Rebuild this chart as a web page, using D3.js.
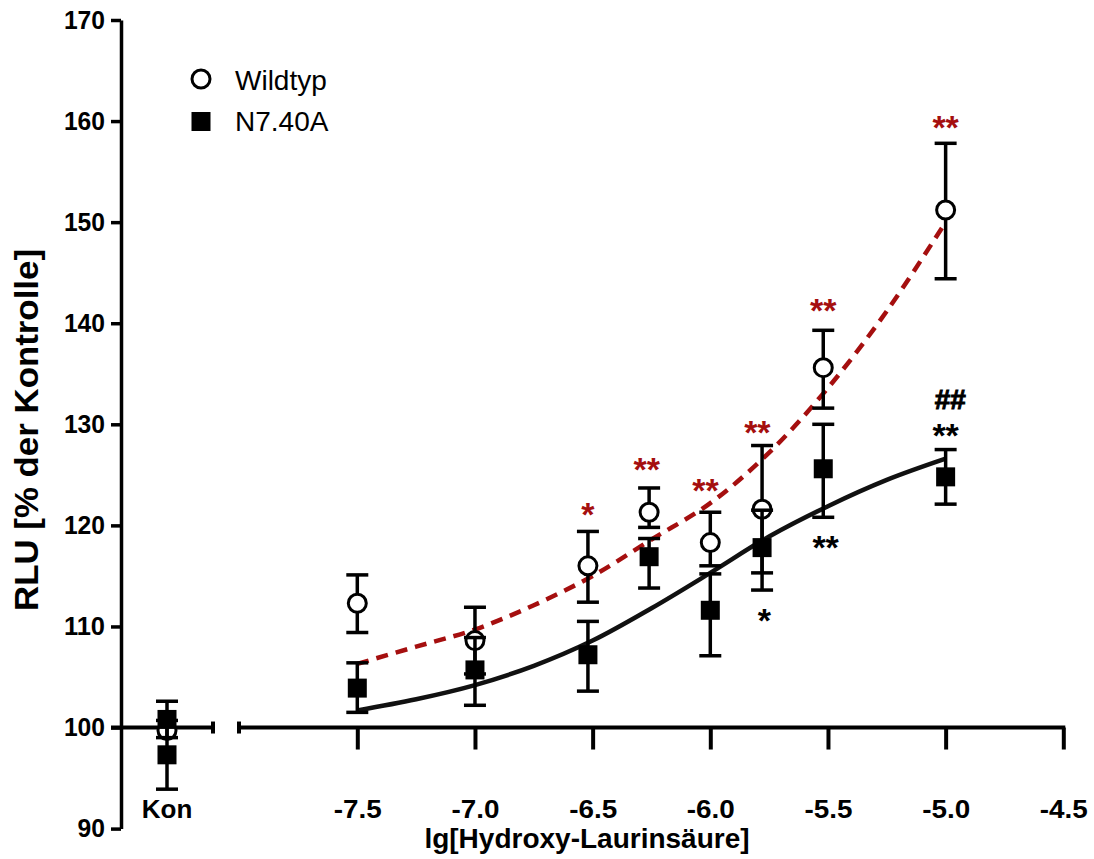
<!DOCTYPE html>
<html>
<head>
<meta charset="utf-8">
<script src="https://cdn.jsdelivr.net/npm/d3@7"></script>
<style>
  body { margin: 0; background: #fff; }
  svg { display: block; }
  text { font-family: "Liberation Sans", Arial, sans-serif; }
</style>
</head>
<body>
<svg id="chart" width="1094" height="859"></svg>
<script>
// concentrations (log M) and measured means / error bar ends
const xVals   = [-7.5, -7.0, -6.52, -6.26, -6.0, -5.78, -5.52, -5.0];
const wtMean  = [112.3, 108.6, 116.0, 121.3, 118.3, 121.6, 135.6, 151.2];
const wtHi    = [115.1, 111.9, 119.4, 123.7, 121.3, 127.9, 139.3, 157.8];
const wtLo    = [109.4, 105.3, 112.4, 119.8, 116.0, 115.3, 131.6, 144.4];
const mutMean = [103.9, 105.7, 107.2, 116.9, 111.6, 117.8, 125.6, 124.8];
const mutHi   = [106.4, 108.9, 110.5, 118.7, 115.2, 121.5, 130.0, 127.5];
const mutLo   = [101.5, 102.2, 103.6, 113.8, 107.1, 113.6, 120.8, 122.1];

// control ("Kon")
const konWtMean  = [99.7];
const konMutMean = [100.8, 97.3];
const konMutHi   = [102.6, 100.7];
const konMutLo   = [99.0, 93.9];

// fitted curves
const fitX   = [-7.5, -7.25, -7.0, -6.75, -6.5, -6.25, -6.0, -5.75, -5.5, -5.25, -5.0];
const wtFit  = [106.3, 108.0, 109.7, 112.1, 115.0, 118.6, 122.2, 127.2, 133.6, 141.2, 150.0];
const mutFit = [101.7, 102.8, 104.2, 106.1, 108.6, 111.8, 115.3, 118.9, 121.9, 124.5, 126.6];

const yTicks = [90, 100, 110, 120, 130, 140, 150, 160, 170];
const xTicks = [-7.5, -7.0, -6.5, -6.0, -5.5, -5.0, -4.5];

// significance marks
const marks = [
    { x: -6.52, y: 121.8, t: '*',  c: 'red' },
    { x: -6.27, y: 126.3, t: '**', c: 'red' },
    { x: -6.02, y: 124.2, t: '**', c: 'red' },
    { x: -5.80, y: 129.9, t: '**', c: 'red' },
    { x: -5.52, y: 142.0, t: '**', c: 'red' },
    { x: -5.00, y: 160.1, t: '**', c: 'red' },
    { x: -5.77, y: 111.3, t: '*',  c: 'black' },
    { x: -5.51, y: 118.6, t: '**', c: 'black' },
    { x: -5.00, y: 129.6, t: '**', c: 'black' },
    { x: -4.98, y: 132.4, t: '##', c: 'black' }
];

const RED = '#a50f0f';
const FONT = '"Liberation Sans", Arial, sans-serif';
const svg = d3.select('#chart');

const y = d3.scaleLinear().domain([90, 170]).range([828.6, 20]);
const x = d3.scaleLinear().domain([-7.5, -4.5]).range([357.3, 1063.3]);
const xKon = d3.scalePoint().domain(['Kon']).range([119, 215]).padding(0.5);

const axisX0 = 121;

// y axis
const yAxis = svg.append('g')
    .attr('transform', `translate(${axisX0},0)`)
    .call(d3.axisLeft(y).tickValues(yTicks).tickSize(10).tickSizeOuter(0).tickPadding(6));
yAxis.select('.domain').attr('stroke', '#000').attr('stroke-width', 3.5);
yAxis.selectAll('.tick line').attr('stroke', '#000').attr('stroke-width', 3.5);
yAxis.selectAll('.tick text')
    .attr('fill', '#000')
    .attr('textLength', d => String(d).length * 13.7)
    .attr('lengthAdjust', 'spacingAndGlyphs')
    .style('font-size', '26px')
    .style('font-weight', 'bold')
    .style('font-family', FONT);

// x axis (broken at 100 %)
const base = y(100);
const xAxis = svg.append('g')
    .attr('transform', `translate(0,${base})`)
    .call(d3.axisBottom(x).tickValues(xTicks).tickSize(22).tickSizeOuter(0).tickPadding(50)
        .tickFormat(d => d.toFixed(1)));
xAxis.select('.domain').remove();
xAxis.selectAll('.tick line').attr('stroke', '#000').attr('stroke-width', 4);
xAxis.selectAll('.tick text')
    .attr('fill', '#000')
    .attr('textLength', 48)
    .attr('lengthAdjust', 'spacingAndGlyphs')
    .style('font-size', '26px')
    .style('font-weight', 'bold')
    .style('font-family', FONT);

const axisLines = svg.append('g').attr('stroke', '#000').attr('stroke-width', 4);
axisLines.append('line').attr('x1', 111).attr('x2', 215).attr('y1', base).attr('y2', base);
axisLines.append('line').attr('x1', 213).attr('x2', 213).attr('y1', base - 6).attr('y2', base + 6);
axisLines.append('line').attr('x1', 237).attr('x2', x(-4.5) + 2).attr('y1', base).attr('y2', base);
axisLines.append('line').attr('x1', 239).attr('x2', 239).attr('y1', base - 6).attr('y2', base + 6);

svg.append('text')
    .attr('x', xKon('Kon'))
    .attr('y', 818)
    .attr('text-anchor', 'middle')
    .style('font-size', '26px')
    .style('font-weight', 'bold')
    .text('Kon');

// axis titles
svg.append('text')
    .attr('x', 587)
    .attr('y', 848)
    .attr('text-anchor', 'middle')
    .style('font-size', '28px')
    .style('font-weight', 'bold')
    .text('lg[Hydroxy-Laurinsäure]');

svg.append('text')
    .attr('transform', 'translate(38,430) rotate(-90)')
    .attr('text-anchor', 'middle')
    .attr('textLength', 362)
    .attr('lengthAdjust', 'spacingAndGlyphs')
    .style('font-size', '33px')
    .style('font-weight', 'bold')
    .text('RLU [% der Kontrolle]');

// fitted curves
const fitLine = (vals) => d3.line()
    .x((d, i) => x(fitX[i]))
    .y(d => y(d))
    .curve(d3.curveCatmullRom)(vals);

svg.append('path')
    .attr('d', fitLine(mutFit))
    .attr('fill', 'none')
    .attr('stroke', '#111')
    .attr('stroke-width', 4.5);

svg.append('path')
    .attr('d', fitLine(wtFit))
    .attr('fill', 'none')
    .attr('stroke', RED)
    .attr('stroke-width', 4.5)
    .attr('stroke-dasharray', '12,8');

// error bars
function errorBars(g, xs, lo, hi) {
    const bars = g.selectAll('g.eb').data(xs).enter().append('g').attr('class', 'eb')
        .attr('stroke', '#000').attr('stroke-width', 3.5);
    bars.append('line')
        .attr('x1', d => d).attr('x2', d => d)
        .attr('y1', (d, i) => y(lo[i])).attr('y2', (d, i) => y(hi[i]));
    bars.append('line')
        .attr('x1', d => d - 11).attr('x2', d => d + 11)
        .attr('y1', (d, i) => y(lo[i])).attr('y2', (d, i) => y(lo[i]));
    bars.append('line')
        .attr('x1', d => d - 11).attr('x2', d => d + 11)
        .attr('y1', (d, i) => y(hi[i])).attr('y2', (d, i) => y(hi[i]));
}

const wtG = svg.append('g');
errorBars(wtG, xVals.map(v => x(v)), wtLo, wtHi);
wtG.selectAll('circle.wt').data(wtMean).enter().append('circle')
    .attr('class', 'wt')
    .attr('cx', (d, i) => x(xVals[i]))
    .attr('cy', d => y(d))
    .attr('r', 9)
    .attr('fill', '#fff')
    .attr('stroke', '#000')
    .attr('stroke-width', 3);

// Kon circle
wtG.selectAll('circle.kon').data(konWtMean).enter().append('circle')
    .attr('class', 'kon')
    .attr('cx', xKon('Kon'))
    .attr('cy', d => y(d))
    .attr('r', 9)
    .attr('fill', '#fff')
    .attr('stroke', '#000')
    .attr('stroke-width', 3);

const mutG = svg.append('g');
errorBars(mutG, xVals.map(v => x(v)), mutLo, mutHi);
const konG = svg.append('g');
errorBars(konG, konMutMean.map(() => xKon('Kon')), konMutLo, konMutHi);

const sq = 19;
mutG.selectAll('rect.mut').data(mutMean).enter().append('rect')
    .attr('class', 'mut')
    .attr('x', (d, i) => x(xVals[i]) - sq / 2)
    .attr('y', d => y(d) - sq / 2)
    .attr('width', sq).attr('height', sq)
    .attr('fill', '#000');
konG.selectAll('rect.kon').data(konMutMean).enter().append('rect')
    .attr('class', 'kon')
    .attr('x', xKon('Kon') - sq / 2)
    .attr('y', d => y(d) - sq / 2)
    .attr('width', sq).attr('height', sq)
    .attr('fill', '#000');

// significance marks
svg.selectAll('text.mark').data(marks).enter().append('text')
    .attr('class', 'mark')
    .attr('x', d => x(d.x))
    .attr('y', d => y(d.y) + (d.t === '##' ? 9 : 19))
    .attr('text-anchor', 'middle')
    .attr('fill', d => d.c === 'red' ? RED : '#000')
    .attr('stroke', d => d.t === '##' ? '#000' : 'none')
    .attr('stroke-width', 1)
    .style('font-size', d => d.t === '##' ? '28px' : '34px')
    .style('font-weight', 'bold')
    .text(d => d.t);

// legend
const legend = svg.append('g');
legend.append('circle')
    .attr('cx', 201).attr('cy', 79).attr('r', 9)
    .attr('fill', '#fff').attr('stroke', '#000').attr('stroke-width', 3);
legend.append('rect')
    .attr('x', 201 - sq / 2).attr('y', 121.5 - sq / 2)
    .attr('width', sq).attr('height', sq).attr('fill', '#000');
legend.append('text').attr('x', 235).attr('y', 90).style('font-size', '28px').text('Wildtyp');
legend.append('text').attr('x', 235).attr('y', 131).style('font-size', '28px').text('N7.40A');
</script>
</body>
</html>
